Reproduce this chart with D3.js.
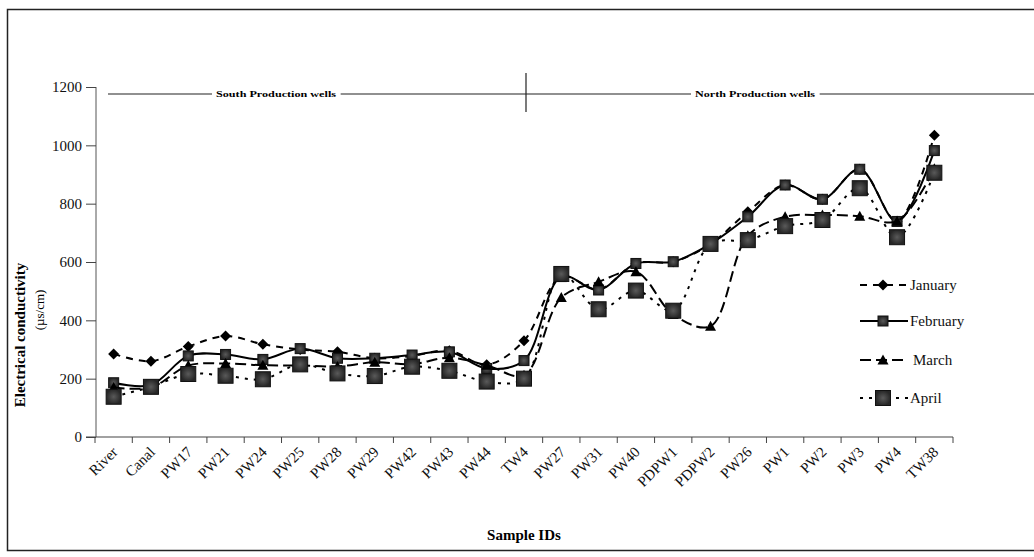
<!DOCTYPE html>
<html>
<head>
<meta charset="utf-8">
<script src="https://cdn.jsdelivr.net/npm/d3@7"></script>
<style>
    body { margin: 0; background: #fff; }
    svg { display: block; font-family: "Liberation Serif", "DejaVu Serif", serif; }
</style>
</head>
<body>
<div id="chart"></div>
<script>
// Data
var samples = ["River", "Canal", "PW17", "PW21", "PW24", "PW25", "PW28", "PW29", "PW42", "PW43", "PW44", "TW4",
    "PW27", "PW31", "PW40", "PDPW1", "PDPW2", "PW26", "PW1", "PW2", "PW3", "PW4", "TW38"];

var january  = [285, 260, 310, 346, 318, 300, 292, 270, 278, 296, 248, 330,
    550, 506, 595, 601, 662, 772, 864, 815, 918, 740, 1035];
var february = [186, 178, 278, 283, 266, 303, 270, 270, 281, 292, 235, 262,
    550, 504, 595, 601, 662, 755, 864, 815, 918, 739, 982];
var march    = [170, 170, 245, 252, 246, 245, 242, 256, 250, 272, 246, 212,
    478, 532, 567, 420, 380, 690, 755, 761, 757, 740, 920];
var april    = [138, 172, 216, 210, 198, 249, 218, 209, 241, 227, 190, 200,
    559, 438, 502, 433, 662, 675, 723, 744, 853, 685, 906];

var yTicks = [0, 200, 400, 600, 800, 1000, 1200];
var groupNames = ["South Production wells", "North  Production wells"];

var series = [
    {name: "January",  values: january,  dash: "7,6",  marker: "diamond"},
    {name: "February", values: february, dash: null,   marker: "small"},
    {name: "March",    values: march,    dash: "11,5", marker: "triangle"},
    {name: "April",    values: april,    dash: "3,6",  marker: "big"}
];

var width = 1034, height = 557;

var svg = d3.select("#chart").append("svg")
    .attr("width", width)
    .attr("height", height);

// gradient for the square markers
var grad = svg.append("defs").append("radialGradient").attr("id", "sq");
grad.append("stop").attr("offset", "0%").attr("stop-color", "#5a5a5a");
grad.append("stop").attr("offset", "100%").attr("stop-color", "#262626");

// outer frame (cut on the right like the source)
svg.append("rect")
    .attr("x", 7.5).attr("y", 9.5)
    .attr("width", 1040).attr("height", 541)
    .attr("fill", "none").attr("stroke", "#222").attr("stroke-width", 1.5);

var x = d3.scaleBand().domain(samples).range([95, 953]);
var y = d3.scaleLinear().domain([0, 1200]).range([437, 87]);
var cx = function(s) { return x(s) + x.bandwidth() / 2; };

// y axis
var yAxis = svg.append("g")
    .attr("transform", "translate(96,0)")
    .call(d3.axisLeft(y).tickValues(yTicks).tickFormat(d3.format("d")).tickSize(10).tickPadding(4));
yAxis.attr("font-family", null).attr("font-size", null);
yAxis.select(".domain").attr("stroke", "#555").attr("d", "M0," + y(0) + "V" + y(1200));
yAxis.selectAll(".tick line").attr("stroke", "#444");
yAxis.selectAll("text").attr("font-size", 15).attr("fill", "#111");

// x axis, ticks on the band edges
var xg = svg.append("g").attr("transform", "translate(0," + y(0) + ")");
xg.append("line")
    .attr("x1", 86).attr("x2", x.range()[1])
    .attr("stroke", "#444").attr("stroke-width", 1.2);
var edges = samples.map(function(s) { return x(s); }).concat([x.range()[1]]);
xg.selectAll(".edge").data(edges).join("line")
    .attr("x1", function(d) { return d; }).attr("x2", function(d) { return d; })
    .attr("y1", 0).attr("y2", 6)
    .attr("stroke", "#444");
xg.selectAll(".lab").data(samples).join("text")
    .attr("transform", function(d) { return "translate(" + (cx(d) + 5) + ",16) rotate(-45)"; })
    .attr("text-anchor", "end")
    .attr("font-size", 15)
    .attr("fill", "#111")
    .text(function(d) { return d; });

// axis titles
svg.append("text")
    .attr("transform", "translate(25,335) rotate(-90)")
    .attr("text-anchor", "middle")
    .attr("font-size", 15).attr("font-weight", "bold")
    .text("Electrical conductivity");
svg.append("text")
    .attr("transform", "translate(44,310) rotate(-90)")
    .attr("text-anchor", "middle")
    .attr("font-size", 13)
    .text("(\u00b5s/cm)");
svg.append("text")
    .attr("x", 524).attr("y", 540)
    .attr("text-anchor", "middle")
    .attr("font-size", 15).attr("font-weight", "bold")
    .text("Sample IDs");

// group annotation on top
var bandY = 94;
var ann = svg.append("g");
ann.append("line")
    .attr("x1", 108).attr("x2", width)
    .attr("y1", bandY).attr("y2", bandY)
    .attr("stroke", "#222").attr("stroke-width", 1.2);
ann.append("line")
    .attr("x1", cx("TW4") + 2).attr("x2", cx("TW4") + 2)
    .attr("y1", 73).attr("y2", 112)
    .attr("stroke", "#222").attr("stroke-width", 1.2);
var gLabelX = [276, 755];
groupNames.forEach(function(name, i) {
    var lg = ann.append("g");
    var bg = lg.append("rect").attr("fill", "#fff");
    var t = lg.append("text")
        .attr("x", gLabelX[i]).attr("y", bandY + 3)
        .attr("text-anchor", "middle")
        .attr("font-size", 9).attr("font-weight", "bold")
        .attr("textLength", 120).attr("lengthAdjust", "spacingAndGlyphs")
        .text(name);
    var bb = t.node().getBBox();
    bg.attr("x", bb.x - 4).attr("y", bb.y).attr("width", bb.width + 8).attr("height", bb.height);
});

// lines
var line = d3.line()
    .x(function(d, i) { return cx(samples[i]); })
    .y(function(d) { return y(d); })
    .curve(d3.curveCatmullRom.alpha(0.5));

function drawMarker(sel, type) {
    if (type === "diamond") {
        sel.append("path").attr("d", "M0,-5.5L5.5,0L0,5.5L-5.5,0Z").attr("fill", "#000");
    } else if (type === "triangle") {
        sel.append("path").attr("d", "M0,-5.5L5.5,4.5L-5.5,4.5Z").attr("fill", "#000");
    } else if (type === "small") {
        sel.append("rect").attr("x", -5).attr("y", -5).attr("width", 10).attr("height", 10)
            .attr("fill", "url(#sq)").attr("stroke", "#111").attr("stroke-width", 1);
    } else {
        sel.append("rect").attr("x", -7.5).attr("y", -7.5).attr("width", 15).attr("height", 15)
            .attr("fill", "url(#sq)").attr("stroke", "#111").attr("stroke-width", 1);
    }
}

// each series: line then markers, later months on top
series.forEach(function(s) {
    svg.append("path")
        .datum(s.values)
        .attr("d", line)
        .attr("fill", "none")
        .attr("stroke", "#000")
        .attr("stroke-width", 2)
        .attr("stroke-dasharray", s.dash);
    svg.append("g").selectAll("g")
        .data(s.values)
        .join("g")
        .attr("transform", function(d, i) { return "translate(" + cx(samples[i]) + "," + y(d) + ")"; })
        .each(function() { drawMarker(d3.select(this), s.marker); });
});

// legend
var legendY = [285, 321, 360, 398];
var legend = svg.append("g");
series.forEach(function(s, i) {
    var row = legend.append("g").attr("transform", "translate(860," + legendY[i] + ")");
    row.append("line")
        .attr("x1", 0).attr("x2", 48)
        .attr("stroke", "#000").attr("stroke-width", 2)
        .attr("stroke-dasharray", s.dash);
    var m = row.append("g").attr("transform", "translate(23,0)");
    drawMarker(m, s.marker);
    row.append("text")
        .attr("x", i === 2 ? 53 : 50).attr("y", 5)
        .attr("font-size", 15)
        .attr("fill", "#111")
        .text(s.name);
});
</script>
</body>
</html>
